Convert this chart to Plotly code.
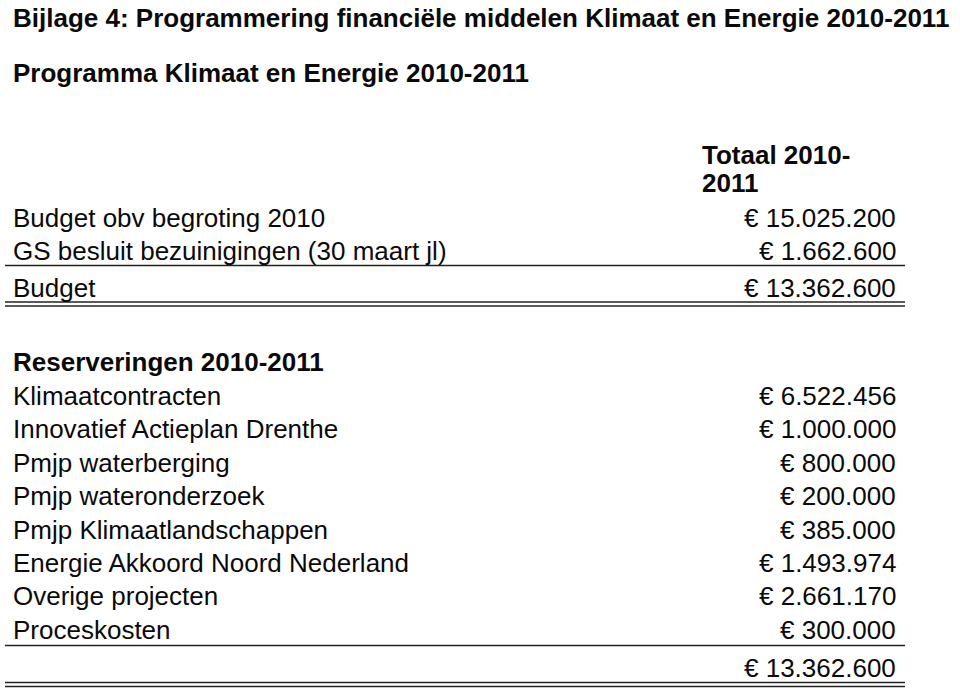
import plotly.graph_objects as go

title_main = "Bijlage 4: Programmering financiële middelen Klimaat en Energie 2010-2011"
title_sub = "Programma Klimaat en Energie 2010-2011"
col_header = ["Totaal 2010-", "2011"]

budget_labels = ["Budget obv begroting 2010", "GS besluit bezuinigingen (30 maart jl)", "Budget"]
budget_values = ["15.025.200", "1.662.600", "13.362.600"]

res_header = "Reserveringen 2010-2011"
res_labels = ["Klimaatcontracten", "Innovatief Actieplan Drenthe", "Pmjp waterberging",
              "Pmjp wateronderzoek", "Pmjp Klimaatlandschappen",
              "Energie Akkoord Noord Nederland", "Overige projecten", "Proceskosten"]
res_values = ["6.522.456", "1.000.000", "800.000", "200.000", "385.000",
              "1.493.974", "2.661.170", "300.000"]
res_total = "13.362.600"

FONT = "Liberation Sans, Arial, sans-serif"
SIZE = 26
INK = "#0a0a0a"
LX = 13     # left edge of labels
VX = 896    # right edge of values

fig = go.Figure()
ann = []


def txt(x, y, s, anchor="left", bold=False, size=SIZE):
    ann.append(dict(x=x, y=y, xref="x", yref="y", text="<b>%s</b>" % s if bold else s,
                    showarrow=False, xanchor=anchor, yanchor="middle",
                    borderpad=0, borderwidth=0,
                    font=dict(family=FONT, size=size, color=INK)))


txt(LX, 18, title_main, bold=True)
txt(LX, 73, title_sub, bold=True)
txt(702, 155, col_header[0], bold=True)
txt(702, 183, col_header[1], bold=True)

budget_y = [218, 251, 288]
for lab, val, y in zip(budget_labels, budget_values, budget_y):
    txt(LX, y, lab)
    txt(VX, y, "€ " + val, anchor="right")

txt(LX, 362, res_header, bold=True)
res_y = [396 + i * 33.4 for i in range(len(res_labels))]
for lab, val, y in zip(res_labels, res_values, res_y):
    txt(LX, y, lab)
    txt(VX, y, "€ " + val, anchor="right")
txt(VX, 668, "€ " + res_total, anchor="right")

shapes = []
for y in [265.5, 302, 306, 645.5, 682.5, 686.5]:
    shapes.append(dict(type="line", xref="x", yref="y", x0=5, x1=905, y0=y, y1=y,
                       line=dict(color="#222222", width=1.4)))

fig.update_layout(
    width=960, height=692,
    margin=dict(l=0, r=0, t=0, b=0),
    paper_bgcolor="white", plot_bgcolor="white",
    xaxis=dict(range=[0, 960], visible=False, fixedrange=True),
    yaxis=dict(range=[692, 0], visible=False, fixedrange=True),
    annotations=ann, shapes=shapes, showlegend=False,
)

# drop the default body margin so the figure sits at the window's corner
fig.write_html("out.html", config={"displayModeBar": False},
               post_script="document.body.style.margin='0';")
